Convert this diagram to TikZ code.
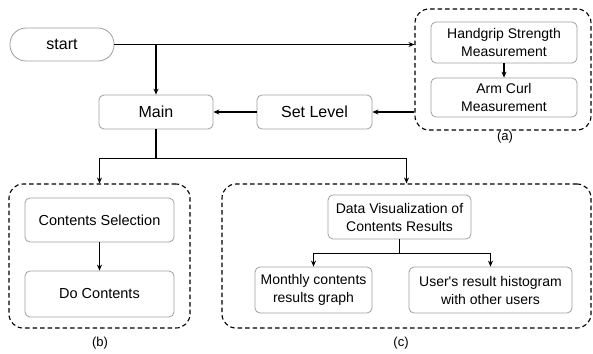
\documentclass[tikz,border=0pt]{standalone}
\usepackage{fontspec}
\setmainfont{Liberation Sans}
\usetikzlibrary{positioning}
\usetikzlibrary{arrows.meta}

\tikzset{
  box/.style={draw=gray!75, rounded corners=5pt, align=center, inner sep=0pt, line width=0.8pt, font=\fontsize{14}{18}\selectfont},
  bigbox/.style={box, font=\fontsize{16}{19}\selectfont},
  group/.style={draw, dash pattern=on 4.5pt off 3pt, rounded corners=14pt, line width=1.1pt, inner sep=0pt},
  link/.style={-{Stealth[length=6pt,width=5pt]}, line width=1.1pt},
  tag/.style={font=\fontsize{13}{15}\selectfont, inner sep=0pt},
}

\begin{document}
\begin{tikzpicture}[x=1pt,y=-1pt]
        \useasboundingbox (0,0) rectangle (593,353);
        % groups
        \node[group, minimum width=176pt, minimum height=121pt] (grpa) at (503,69.5) {};
        \node[group, minimum width=181pt, minimum height=144pt] (grpb) at (99.5,256) {};
        \node[group, minimum width=369pt, minimum height=144pt] (grpc) at (406.5,256) {};
        \node[tag] (laba) at (505,137) {(a)};
        \node[tag] (labb) at (100,343) {(b)};
        \node[tag] (labc) at (401,343) {(c)};
        % nodes
        \node[bigbox, rounded corners=16pt, minimum width=104pt, minimum height=33pt] (start) at (62,44.5) {start};
        \node[bigbox, minimum width=114pt, minimum height=34pt] (main) at (156,112) {Main};
        \node[bigbox, minimum width=115pt, minimum height=34pt] (setlevel) at (314.5,112) {Set Level};
        \node[box, minimum width=146pt, minimum height=41pt] (handgrip) at (504,42.5) {Handgrip Strength\\Measurement};
        \node[box, minimum width=146pt, minimum height=39pt] (armcurl) at (504,97.5) {Arm Curl\\Measurement};
        \node[box, font=\fontsize{14.5}{18}\selectfont, minimum width=149pt, minimum height=44pt] (contsel) at (99.5,220) {Contents Selection};
        \node[box, font=\fontsize{14.5}{18}\selectfont, minimum width=149pt, minimum height=46pt] (docont) at (99.5,294) {Do Contents};
        \node[box, minimum width=143pt, minimum height=44pt] (dataviz) at (399.5,217) {Data Visualization of\\Contents Results};
        \node[box, minimum width=117pt, minimum height=46pt] (monthly) at (313.5,290) {Monthly contents\\results graph};
        \node[box, minimum width=163pt, minimum height=46pt] (histo) at (490.5,290) {User\textquotesingle s result histogram\\with other users};
        % arrows
        \draw[link] (start.east) -- (start.east -| grpa.west);
        \draw[link] (start.east -| main.north) -- (main.north);
        \draw[link] (setlevel.east -| grpa.west) -- (setlevel.east);
        \draw[link] (setlevel) -- (main);
        \draw[link] (handgrip) -- (armcurl);
        \draw[line width=1.1pt] (main.south) -- ++(0,29) coordinate (split);
        \draw[link] (split) -| (grpb.north);
        \draw[link] (split) -| (grpc.north);
        \draw[link] (contsel) -- (docont);
        \draw[line width=1.1pt] (dataviz.south) -- ++(0,14) coordinate (split2);
        \draw[link] (split2) -| (monthly.north);
        \draw[link] (split2) -| (histo.north);
    \end{tikzpicture}
\end{document}
